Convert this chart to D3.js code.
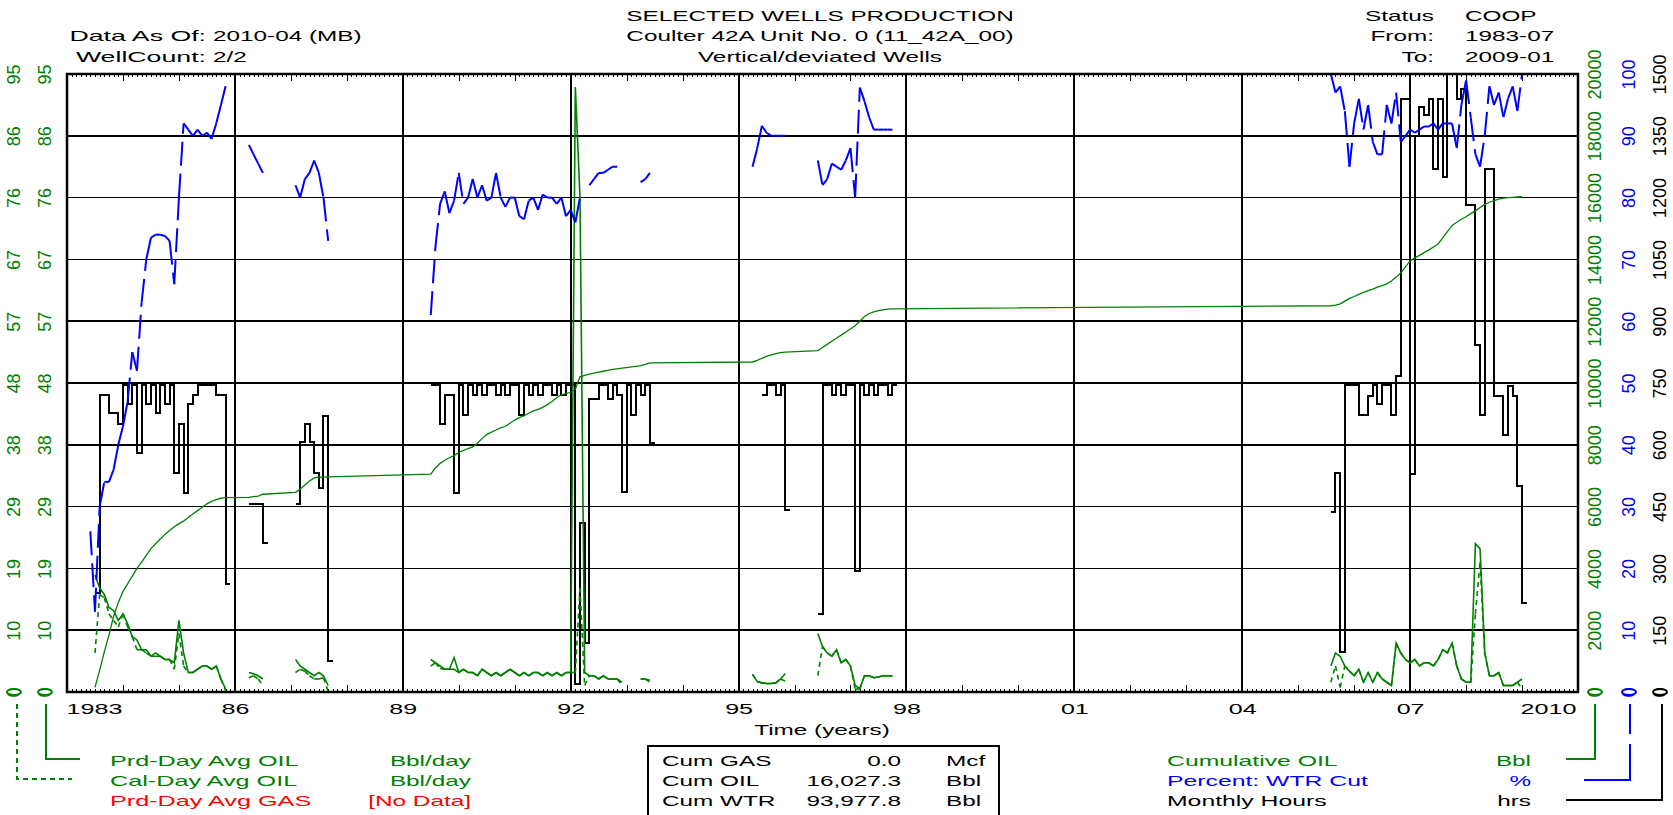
<!DOCTYPE html>
<html><head><meta charset="utf-8">
<script src="https://cdn.jsdelivr.net/npm/d3@7"></script>
<style>
body{margin:0;background:#fff}
svg{display:block}
text{font-family:"Liberation Sans",Arial,sans-serif;font-size:15px}
</style></head>
<body><svg id="c" width="1673" height="815"></svg>
<script>
// ---------- DATA (monthly, segments start at "YYYY-MM") ----------
const monthlyHours = [
 ["1983-07",[240,720,720,676,676,650,744,700,744,581,744,700,744,676,744,700,744,531,650,482,700,720,744,744,744,744,720,720,263]],
 ["1986-04",[457,457,457,362]],
 ["1987-02",[457,606,651,606,531,494,671,75]],
 ["1989-07",[744,744,651,720,720,482,744,672,744,720,744,720,744,744,720,744,720,744,744,672,744,720,744,720,744,744,720,744,720,744,744,20,410,120,710,710,744,744,710,744,720,486,744,672,744,720,744,605]],
 ["1995-06",[720,744,744,720,744,441]],
 ["1996-06",[190,744,744,720,744,720,744,744,294,744,720,744,720,744,744,720,744]],
 ["2005-08",[436,532,97,744,744,744,673,673,718,744,700,744,744,673,768,1440,1440,529,1350,1420,1400,1440,1270,1440,1250,1500,1500,1440,1464,1181,1181,843,673,1270,1270,718,718,624,743,718,500,216]]
];
const waterCut = [
 ["1983-06",[26,13,30,34,34,36,40,43,47,55,52,63,70,73.5,74,74,73.8,73,66,80,92,91,90,91,90,90.5,89.5,92,95,98]],
 ["1986-04",[88.5,87,85.5,84]],
 ["1987-02",[82,80,83,84,86,84,80,73]],
 ["1989-07",[61,72,79,81,77.5,79.5,84,79,80,83,80,82,79.5,80,84,80,78.5,80,80,77,76.5,79.5,80,78,80.5,80,80,79,80,77,78,76,80,null,82,83,84,84,84.5,85,85,null,null,null,null,82.5,83,84]],
 ["1995-04",[85,88,91.6,90.5,90,90,90,90]],
 ["1996-06",[86,82,83,85.5,85,84.5,86,88,80,97.8,95.6,93,91,91,91,91,91]],
 ["2005-08",[100,97,98,94,85,92,96,91,95,89,87,87,95,92,97,89,90,91,90.5,91,91.5,91.5,92,91,92,92,92,88,95,99,93,87,85,90,98,95,97,93,96,98,94,100]]
];
const cumulativeOil = [
 ["1983-07",[150,700,1300,1850,2450,2900,3250,3500,3750,4000,4200,4420,4640,4800,4950,5100,5230,5350,5450,5530,5650,5760,5870,5980,6090,6170,6225,6270,6290]],
 ["1986-04",[6300,6320,6340,6400]],
 ["1987-02",[6460,6560,6700,6830,6930,6950,6955,6960]],
 ["1989-07",[7050,7250,7400,7500,7580,7650,7750,7820,7880,7930,8050,8200,8330,8410,8480,8550,8600,8700,8800,8880,8940,9020,9100,9150,9210,9300,9400,9520,9620,9660,9700,9800,10200,10250,10290,10320,10350,10380,10410,10440,10460,10480,10500,10520,10540,10560,10600,10650]],
 ["1995-04",[10680,10730,10800,10860,10910,10950,10980,11000]],
 ["1996-06",[11050,11150,11250,11350,11450,11550,11650,11750,11850,12000,12150,12250,12300,12340,12370,12390,12400]],
 ["2005-08",[12500,12520,12560,12650,12740,12800,12870,12930,12990,13040,13100,13150,13210,13300,13430,13560,13760,13950,14050,14130,14220,14300,14400,14500,14700,14900,15100,15200,15300,15380,15480,15570,15680,15780,15850,15900,15950,15980,16000,16010,16020,16027]]
];
const prdDayOil = [
 ["1983-07",[18,16,15,13,12.5,11,12,10.5,8.5,8,6.5,6.5,5.5,6,5.5,5,5,4.5,11,6,3,3,3.5,4,4,3.5,4,2,0.5]],
 ["1986-04",[3,2.8,2.5,2]],
 ["1987-02",[5,4,3.5,3,2.5,3,2.5,1]],
 ["1989-07",[5,4.5,4,3.5,3.5,5.3,3,3.5,3,3,2.5,3.5,3,2.5,3,2.5,3,3.5,3,2.5,3,2.5,3,3,2.5,3,2.5,3,2.5,3,3,93,76,3,2.5,2.5,2,2.5,2,2,2,1.5,null,null,null,2,2,1.8]],
 ["1995-04",[2.7,1.6,1.4,1.3,1.3,1.4,2,2.8]],
 ["1996-06",[9,7,6,5.5,6.5,4.5,5,4,1,0.5,2.5,2.5,2.2,2.3,2.5,2.5,2.5]],
 ["2005-08",[4,6,5.5,4,3.2,2.5,3.5,1.5,3,1.5,3,2,1.5,1,7.5,6,5,4.5,5,4,4.5,4.5,4,5,6.5,6,7.5,4,2,1.5,1.5,22.8,22,6,2.5,2.5,3,1,1,1,1.5,2]]
];
const calDayOil = [
 ["1983-07",[6,15,14.5,12,11,10,12,10,8.5,6.5,6.5,6,5.5,5.5,5.5,5,5,3.5,9,4,3,3,3.5,4,4,3.5,4,2,0.2]],
 ["1986-04",[2.2,2.5,2,1]],
 ["1987-02",[3,3.5,3.2,2.5,2,2,2.2,0.1]],
 ["1989-07",[4,4.5,3.6,3.5,3.5,3.5,3,3.5,3,3,2.5,3.5,3,2.5,3,2.5,3,3.5,3,2.5,3,2.5,3,3,2.5,3,2.5,3,2.5,3,3,3,16,1,2.5,2.5,2,2.5,2,2,2,1,null,null,null,2,2,1.5]],
 ["1995-04",[2.7,1.6,1.4,1.3,1.3,1.4,2,1.7]],
 ["1996-06",[2.5,7,6,5.5,6.5,4.5,5,4,0.4,0.5,2.5,2.5,2.2,2.3,2.5,2.5,2.5]],
 ["2005-08",[1.5,4,0.7,4,3.2,2.5,3.5,1.5,3,1.5,3,2,1.5,1,7.5,6,5,4.5,5,4,4.5,4.5,4,5,6.5,6,7.5,4,2,1.5,1.5,12,20,6,2.5,2.5,3,1,1,1,1.5,0.5]]
];
const xTickLabels = ["1983","86","89","92","95","98","01","04","07","2010"];
const oilTickLabels = ["0","10","19","29","38","48","57","67","76","86","95"];
const cumTickLabels = ["0","2000","4000","6000","8000","10000","12000","14000","16000","18000","20000"];
const wtrTickLabels = ["0","10","20","30","40","50","60","70","80","90","100"];
const hrsTickLabels = ["0","150","300","450","600","750","900","1050","1200","1350","1500"];
const headerLeft = [["Data As Of:","2010-04 (MB)"],["WellCount:","2/2"]];
const titleLines = ["SELECTED WELLS PRODUCTION","Coulter 42A Unit No. 0 (11_42A_00)","Vertical/deviated Wells"];
const headerRight = [["Status","COOP"],["From:","1983-07"],["To:","2009-01"]];
const legendLeft = [["Prd-Day Avg OIL","Bbl/day","#008000"],["Cal-Day Avg OIL","Bbl/day","#008000"],["Prd-Day Avg GAS","[No Data]","#ff0000"]];
const cumBox = [["Cum GAS","0.0","Mcf"],["Cum OIL","16,027.3","Bbl"],["Cum WTR","93,977.8","Bbl"]];
const legendRight = [["Cumulative OIL","Bbl","#008000"],["Percent: WTR Cut","%","#0000ff"],["Monthly Hours","hrs","#000000"]];

// ---------- helpers ----------
const GREEN="#008000", BLUE="#0000ff";
const svg = d3.select("#c");
const L=67, R=1578, T=74, B=692;
const monthOf = s => { const [y,mo]=s.split("-").map(Number); return (y-1983)*12+(mo-1); };
const expand = segs => segs.map(([s,vals]) => { const m0=monthOf(s); return vals.map((v,i)=>({m:m0+i,v})); });
const x = d3.scaleLinear().domain([0,324]).range([L,R]);
const yOil = d3.scaleLinear().domain([0,95]).range([B,T]);
const yCum = d3.scaleLinear().domain([0,20000]).range([B,T]);
const yWtr = d3.scaleLinear().domain([0,100]).range([B,T]);
const yHrs = d3.scaleLinear().domain([0,1500]).range([B,T]);
const K = 1.62;
function stretch(sel,k){ sel.each(function(){ const w=this.getComputedTextLength(); this.setAttribute("textLength",(w*(k||K)).toFixed(1)); this.setAttribute("lengthAdjust","spacingAndGlyphs"); }); }
function txt(xp,yp,s,anchor,color,k){ const t=svg.append("text").attr("x",xp).attr("y",yp).attr("text-anchor",anchor||"start").attr("fill",color||"#000").text(s); stretch(t,k); return t; }

// ---------- grid ----------
const grid = svg.append("g").attr("stroke","#000").attr("stroke-width",1.6).attr("shape-rendering","crispEdges");
d3.range(1,10).forEach(i=>{ const yy=yWtr(i*10); grid.append("line").attr("x1",L).attr("x2",R).attr("y1",yy).attr("y2",yy); });
d3.range(36,324,36).forEach(m=>{ grid.append("line").attr("x1",x(m)).attr("x2",x(m)).attr("y1",T).attr("y2",B).attr("stroke-width",2); });

const monthTicks = d3.range(0,325), yearTicks = d3.range(0,325,12);
function tickAxis(gen, yPos, vals, size){
  const g = svg.append("g").attr("transform",`translate(0,${yPos})`).call(gen(x).tickValues(vals).tickSize(-size).tickFormat(""));
  g.select(".domain").remove(); g.selectAll("line").attr("stroke","#000").attr("stroke-width",1).attr("shape-rendering","crispEdges");
}
tickAxis(d3.axisBottom,B,monthTicks,3); tickAxis(d3.axisBottom,B,yearTicks,7);
tickAxis(d3.axisTop,T,monthTicks,3); tickAxis(d3.axisTop,T,yearTicks,7);

// ---------- series ----------
const plot = svg.append("g");
expand(monthlyHours).forEach(seg=>{
  const pts = seg.concat([{m:seg[seg.length-1].m+1, v:seg[seg.length-1].v}]);
  plot.append("path").attr("d", d3.line().x(d=>x(d.m)).y(d=>yHrs(d.v)).curve(d3.curveStepAfter)(pts))
    .attr("fill","none").attr("stroke","#000").attr("stroke-width",2).attr("shape-rendering","crispEdges");
});
const cumPts = expand(cumulativeOil).flat();
plot.append("path").attr("d", d3.line().x(d=>x(d.m)).y(d=>yCum(d.v))(cumPts))
  .attr("fill","none").attr("stroke",GREEN).attr("stroke-width",1.3);
function dashedSeries(data, yS, color, dash, w){
  expand(data).forEach(seg=>{
    for(let i=0;i<seg.length-1;i++){
      const a=seg[i], b=seg[i+1];
      if(a.v==null||b.v==null) continue;
      plot.append("line").attr("x1",x(a.m)).attr("y1",yS(a.v)).attr("x2",x(b.m)).attr("y2",yS(b.v))
        .attr("stroke",color).attr("stroke-width",w).attr("stroke-dasharray",dash);
    }
  });
}
dashedSeries(calDayOil, yOil, GREEN, "5,4", 1.6);
expand(prdDayOil).forEach(seg=>{
  plot.append("path").attr("d", d3.line().defined(d=>d.v!=null).x(d=>x(d.m)).y(d=>yOil(d.v))(seg))
    .attr("fill","none").attr("stroke",GREEN).attr("stroke-width",1.6);
});
dashedSeries(waterCut, yWtr, BLUE, "24,8", 2);

svg.append("rect").attr("x",L).attr("y",T).attr("width",R-L).attr("height",B-T)
  .attr("fill","none").attr("stroke","#000").attr("stroke-width",2.5);

// ---------- value axes (rotated labels) ----------
function valueAxis(xPos, scale, vals, labels, color){
  const g = svg.append("g").attr("transform",`translate(${xPos},0)`)
    .call(d3.axisLeft(scale).tickValues(vals).tickSize(0).tickFormat((d,i)=>labels[i]));
  g.select(".domain").remove();
  g.selectAll("text").attr("x",0).attr("dy",null).attr("transform","rotate(-90)")
    .attr("text-anchor","middle").attr("dominant-baseline","central")
    .attr("fill",color).style("font-size","18px").style("font-family",'"Liberation Sans",Arial,sans-serif');
}
const oilVals = oilTickLabels.map((_,i)=>i*9.5);
valueAxis(14, yOil, oilVals, oilTickLabels, GREEN);
valueAxis(45, yOil, oilVals, oilTickLabels, GREEN);
valueAxis(1595, yCum, cumTickLabels.map(Number), cumTickLabels, GREEN);
valueAxis(1629, yWtr, wtrTickLabels.map(Number), wtrTickLabels, BLUE);
valueAxis(1660, yHrs, hrsTickLabels.map(Number), hrsTickLabels, "#000");

const xa = svg.append("g").attr("transform",`translate(0,${B})`)
  .call(d3.axisBottom(x).tickValues(xTickLabels.map((_,i)=>i*36)).tickSize(0).tickFormat((d,i)=>xTickLabels[i]));
xa.select(".domain").remove();
xa.selectAll("text").attr("y",21.5).attr("dy",null).attr("fill","#000")
  .style("font-size","15.5px").style("font-family",'"Liberation Sans",Arial,sans-serif')
  .attr("text-anchor",(d,i)=> i===0?"start":(i===xTickLabels.length-1?"end":"middle"))
  .attr("x",(d,i)=> i===0?-1:(i===xTickLabels.length-1?-2:0));
stretch(xa.selectAll("text"));
txt(822,734.5,"Time (years)","middle");

// ---------- header ----------
const rowsY=[21,40.5,61.5];
titleLines.forEach((s,i)=>txt(820,rowsY[i],s,"middle"));
headerLeft.forEach((r,i)=>{ txt(206,rowsY[i+1],r[0],"end",null,1.78); txt(213,rowsY[i+1],r[1],"start"); });
headerRight.forEach((r,i)=>{ txt(1434,rowsY[i],r[0],"end"); txt(1465,rowsY[i],r[1],"start"); });

// ---------- legend ----------
const legY=[765.5,785.5,805.5];
legendLeft.forEach((r,i)=>{ txt(110,legY[i],r[0],"start",r[2],1.68); txt(471,legY[i],r[1],"end",r[2]); });
legendRight.forEach((r,i)=>{ txt(1167,legY[i],r[0],"start",r[2],1.65); txt(1531,legY[i],r[1],"end",r[2]); });
svg.append("rect").attr("x",648).attr("y",746).attr("width",351).attr("height",80)
  .attr("fill","none").attr("stroke","#000").attr("stroke-width",2);
cumBox.forEach((r,i)=>{ txt(662,legY[i],r[0],"start"); txt(901,legY[i],r[1],"end"); txt(946,legY[i],r[2],"start"); });

const markers=[[14,GREEN,"M17,704V779H72","5,4"],[45,GREEN,"M46,704V759H80",null],
  [1595,GREEN,"M1595,704V759H1566",null],[1629,BLUE,"M1630,704V780H1584","30,10,400"],[1660,"#000","M1662,704V800H1566",null]];
markers.forEach(([mx,c,d,dash])=>{
  svg.append("ellipse").attr("cx",mx).attr("cy",B).attr("rx",7).attr("ry",3).attr("fill","#fff").attr("stroke",c).attr("stroke-width",2);
  const p=svg.append("path").attr("d",d).attr("fill","none").attr("stroke",c).attr("stroke-width",2);
  if(dash) p.attr("stroke-dasharray",dash);
});
</script></body></html>
